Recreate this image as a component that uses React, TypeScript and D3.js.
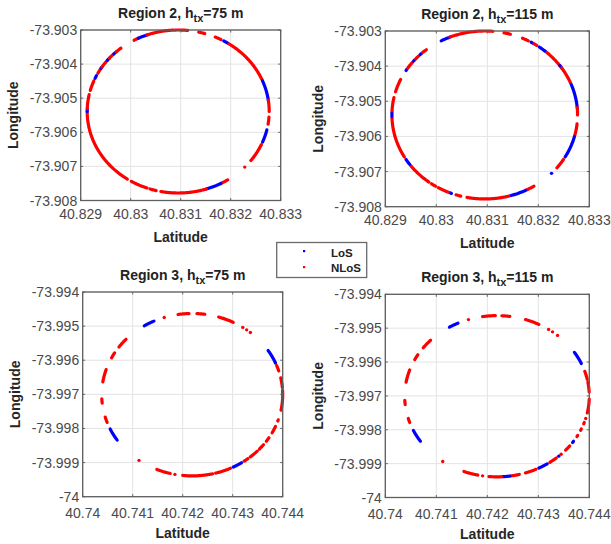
import React from "react";
import * as d3 from "d3";

// ---------- data ----------
const latTicksR2 = [40.829, 40.83, 40.831, 40.832, 40.833];
const latLabelsR2 = ["40.829", "40.83", "40.831", "40.832", "40.833"];
const lonTicksR2 = [-73.908, -73.907, -73.906, -73.905, -73.904, -73.903];
const lonLabelsR2 = ["-73.908", "-73.907", "-73.906", "-73.905", "-73.904", "-73.903"];

const latTicksR3 = [40.74, 40.741, 40.742, 40.743, 40.744];
const latLabelsR3 = ["40.74", "40.741", "40.742", "40.743", "40.744"];
const lonTicksR3 = [-74, -73.999, -73.998, -73.997, -73.996, -73.995, -73.994];
const lonLabelsR3 = ["-74", "-73.999", "-73.998", "-73.997", "-73.996", "-73.995", "-73.994"];

// route circle (lat, lon) centre and half-extents
const centerR2 = [40.83095, -73.90539];
const radiusR2 = [0.00182, 0.00239];
const centerR3 = [40.74219, -73.99701];
const radiusR3 = [0.00181, 0.00238];

// samples along the route: [start bearing°, end bearing°, class]
const segsR2h75 = [
  [-29, -26, "N"], [-26, -20, "L"], [-20, -3, "N"], [-2, 6, "N"], [13, 17, "N"], [24, 28, "N"],
  [30, 33, "L"], [34, 67, "N"], [68, 82, "L"], [82, 90, "N"], [94, 99, "N"], [103, 112, "L"],
  [114, 127, "N"], [133, 133, "N"], [147, 152, "N"], [152, 162, "L"], [162, 191, "N"],
  [194, 198, "N"], [200, 211, "N"], [214, 270, "N"], [270, 272, "L"], [272, 282, "N"],
  [285, 292, "N"], [294, 296, "L"], [298, 302, "N"], [302, 303, "L"], [303, 309, "N"],
  [309, 311, "L"], [311, 315, "N"], [315, 317, "L"], [317, 321, "N"],
];
const segsR2h115 = [
  [-28, -22, "L"], [-22, -4, "N"], [-3, 5, "N"], [12, 16, "N"], [24, 28, "N"], [30, 31, "L"],
  [32, 34, "N"], [36, 41, "L"], [42, 54, "N"], [54, 56, "L"], [56, 68, "N"], [69, 85, "L"],
  [85, 90, "N"], [96, 104, "N"], [105, 120, "L"], [122, 129, "N"], [134, 134, "L"],
  [148, 153, "N"], [154, 164, "L"], [165, 191, "N"], [195, 198, "N"], [201, 202, "L"],
  [203, 210, "N"], [212, 215, "N"], [217, 233, "N"], [234, 238, "L"], [240, 268, "N"],
  [269, 272, "L"], [273, 282, "N"], [286, 295, "N"], [302, 303, "L"], [304, 309, "N"],
  [310, 311, "L"], [312, 315, "N"], [316, 317, "L"], [318, 321, "N"],
];
const segsR3h75 = [
  [-32, -25, "L"], [-18, -18, "N"], [-9, -2, "N"], [3, 8, "N"], [17, 27, "N"], [34, 34, "N"],
  [37, 37, "N"], [40, 40, "N"], [57, 67, "L"], [69, 73, "N"], [78, 85, "N"], [87, 101, "N"],
  [108, 109, "N"], [113, 118, "N"], [122, 125, "N"], [128, 132, "N"], [134, 140, "N"],
  [142, 145, "N"], [147, 153, "L"], [155, 165, "N"], [167, 186, "N"], [191, 191, "N"],
  [194, 203, "N"], [216, 216, "N"], [236, 245, "L"], [250, 254, "N"], [264, 267, "N"],
  [279, 288, "N"], [297, 301, "N"], [306, 313, "N"],
];
const segsR3h115 = [
  [-31, -25, "L"], [-18, -18, "N"], [-9, -1, "N"], [3, 8, "N"], [18, 27, "N"], [34, 34, "N"],
  [37, 37, "N"], [41, 41, "N"], [57, 66, "L"], [72, 78, "N"], [80, 87, "N"], [92, 102, "N"],
  [106, 106, "N"], [109, 110, "N"], [114, 115, "N"], [119, 120, "N"], [124, 125, "L"],
  [128, 132, "N"], [136, 136, "N"], [138, 138, "L"], [140, 145, "N"], [147, 153, "L"],
  [155, 162, "N"], [166, 171, "N"], [172, 177, "L"], [177, 185, "N"], [189, 189, "N"],
  [192, 201, "N"], [216, 216, "N"], [236, 245, "L"], [251, 254, "N"], [264, 267, "N"],
  [280, 289, "N"], [297, 301, "N"], [307, 314, "N"],
];

const legendLabels = ["LoS", "NLoS"];
const classColor = { L: "#0000ff", N: "#ff0000" };

// ---------- layout ----------
const FONT = "'Liberation Sans', Arial, Helvetica, sans-serif";

const panels = [
  { region: "2", h: "75", x0: 80.7, x1: 280.7, y0: 30, y1: 200.5, xl: 18.8, latT: latTicksR2, latL: latLabelsR2, lonT: lonTicksR2, lonL: lonLabelsR2, c: centerR2, r: radiusR2, segs: segsR2h75 },
  { region: "2", h: "115", x0: 385.3, x1: 589.3, y0: 31, y1: 206.7, xl: 18.5, latT: latTicksR2, latL: latLabelsR2, lonT: lonTicksR2, lonL: lonLabelsR2, c: centerR2, r: radiusR2, segs: segsR2h115 },
  { region: "3", h: "75", x0: 82.7, x1: 282.7, y0: 292, y1: 496.7, xl: 21.2, latT: latTicksR3, latL: latLabelsR3, lonT: lonTicksR3, lonL: lonLabelsR3, c: centerR3, r: radiusR3, segs: segsR3h75 },
  { region: "3", h: "115", x0: 385.3, x1: 589.3, y0: 294.3, y1: 497.5, xl: 21.5, latT: latTicksR3, latL: latLabelsR3, lonT: lonTicksR3, lonL: lonLabelsR3, c: centerR3, r: radiusR3, segs: segsR3h115 },
];

function Panel({ p }) {
  const latT = p.latT;
  const lonT = p.lonT;
  const x = d3.scaleLinear().domain([latT[0], latT[latT.length - 1]]).range([p.x0, p.x1]);
  const y = d3.scaleLinear().domain([lonT[0], lonT[lonT.length - 1]]).range([p.y1, p.y0]);
  const line = d3.line().x((d) => x(d[0])).y((d) => y(d[1]));
  const arcPts = (a0, a1) => {
    const n = Math.max(1, Math.ceil(Math.abs(a1 - a0) / 0.5));
    return d3.range(n + 1).map((i) => {
      const t = ((a0 + ((a1 - a0) * i) / n) * Math.PI) / 180;
      return [p.c[0] + p.r[0] * Math.sin(t), p.c[1] + p.r[1] * Math.cos(t)];
    });
  };
  const cx = (p.x0 + p.x1) / 2;
  const cy = (p.y0 + p.y1) / 2;
  const tickCol = "#4a4a4a";
  return (
    <g>
      {latT.map((v, i) => (
        <line key={"gx" + i} x1={x(v)} x2={x(v)} y1={p.y0} y2={p.y1} stroke="#e3e3e3" strokeWidth={1} />
      ))}
      {lonT.map((v, i) => (
        <line key={"gy" + i} x1={p.x0} x2={p.x1} y1={y(v)} y2={y(v)} stroke="#e3e3e3" strokeWidth={1} />
      ))}
      {p.segs.map((s, i) =>
        s[0] === s[1] ? (
          <circle key={"s" + i} cx={x(arcPts(s[0], s[0])[0][0])} cy={y(arcPts(s[0], s[0])[0][1])} r={1.7} fill={classColor[s[2]]} />
        ) : (
          <path key={"s" + i} d={line(arcPts(s[0], s[1]))} fill="none" stroke={classColor[s[2]]} strokeWidth={3.2} strokeLinecap="round" />
        )
      )}
      {latT.map((v, i) => (
        <g key={"tx" + i}>
          <line x1={x(v)} x2={x(v)} y1={p.y1} y2={p.y1 - 2.5} stroke="#666" />
          <line x1={x(v)} x2={x(v)} y1={p.y0} y2={p.y0 + 2.5} stroke="#666" />
          <text x={x(v)} y={p.y1 + p.xl} textAnchor="middle" fontSize={14} fill={tickCol} fontFamily={FONT}>
            {p.latL[i]}
          </text>
        </g>
      ))}
      {lonT.map((v, i) => (
        <g key={"ty" + i}>
          <line x1={p.x0} x2={p.x0 + 2.5} y1={y(v)} y2={y(v)} stroke="#666" />
          <line x1={p.x1} x2={p.x1 - 2.5} y1={y(v)} y2={y(v)} stroke="#666" />
          <text x={p.x0 - 3.5} y={y(v) + 5} textAnchor="end" fontSize={14} fill={tickCol} fontFamily={FONT}>
            {p.lonL[i]}
          </text>
        </g>
      ))}
      <rect x={p.x0} y={p.y0} width={p.x1 - p.x0} height={p.y1 - p.y0} fill="none" stroke="#5e5e5e" strokeWidth={1.3} />
      <text x={cx} y={p.y0 - 12.5} textAnchor="middle" fontSize={14} fontWeight="bold" fill="#222" fontFamily={FONT}>
        <tspan>{`Region ${p.region}, h`}</tspan>
        <tspan dy={4} fontSize={11}>tx</tspan>
        <tspan dy={-4}>{`=${p.h} m`}</tspan>
      </text>
      <text x={cx} y={p.y1 + 41.5} textAnchor="middle" fontSize={14} fontWeight="bold" fill="#262626" fontFamily={FONT}>
        Latitude
      </text>
      <text transform={`translate(${p.x0 - 62.5},${cy}) rotate(-90)`} textAnchor="middle" fontSize={14} fontWeight="bold" fill="#262626" fontFamily={FONT}>
        Longitude
      </text>
    </g>
  );
}

export default function App() {
  return (
    <svg width={611} height={544} style={{ position: "absolute", left: 0, top: 0, background: "#fff" }}>
      <rect width={611} height={544} fill="#fff" />
      {panels.map((p, i) => (
        <Panel key={i} p={p} />
      ))}
      <g>
        <rect x={276.7} y={242.5} width={90} height={35} fill="#fff" stroke="#6a6a6a" strokeWidth={1.3} />
        {legendLabels.map((lab, i) => (
          <g key={lab}>
            <rect x={303} y={251 + i * 16 - 1} width={2.2} height={2.2} fill={i === 0 ? classColor.L : classColor.N} />
            <text x={331} y={256.5 + i * 15} fontSize={11.5} fontWeight="bold" fill="#222" fontFamily={FONT}>
              {lab}
            </text>
          </g>
        ))}
      </g>
    </svg>
  );
}
